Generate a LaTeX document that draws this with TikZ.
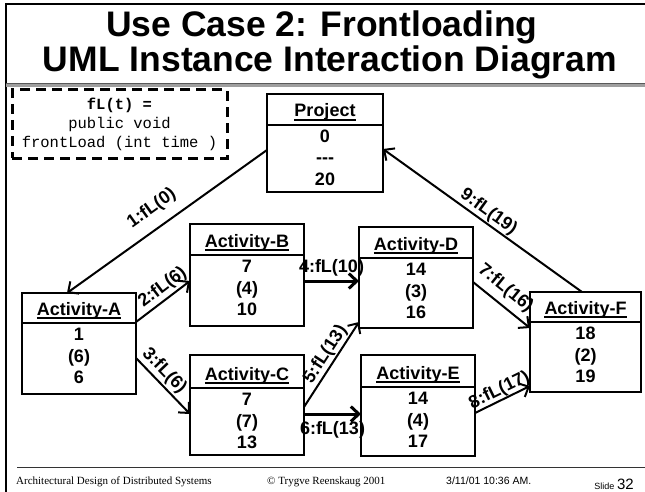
\documentclass[tikz,border=0pt]{standalone}
\usepackage{fontspec}
\setmainfont{Liberation Sans}
\newfontfamily\serifft{Liberation Serif}
\newfontfamily\monoft{Liberation Mono}
\usetikzlibrary{arrows.meta,calc}

% one UML instance box: name, x1, y1, x2, y2, y of the separator, title
\newcommand\umlobj[7]{%
  \node[objbox, minimum width={(#4-#2)*1pt}, minimum height={(#5-#3)*1pt}]
    (#1) at ({(#2+#4)/2},{(#3+#5)/2}) {};
  \draw[sepline] (#2,#6) -- (#4,#6);
  \node[objtext] (#1-title) at ({(#2+#4)/2},#6-8) {#7};
  \draw[uline] ([yshift=-3pt]#1-title.base west) -- ([yshift=-3pt]#1-title.base east);
}
% the three attribute values of a box: name, x centre, y of the separator, values
\newcommand\umlvals[6]{%
  \node[objtext] (#1-v1) at (#2,#3+17.5) {#4};
  \node[objtext] (#1-v2) at (#2,#3+39) {#5};
  \node[objtext] (#1-v3) at (#2,#3+60.5) {#6};
}

\begin{document}
\begin{tikzpicture}[x=1pt,y=-1pt,
  objbox/.style={draw, line width=1.8pt, inner sep=0pt, outer sep=0pt},
  sepline/.style={line width=1.5pt},
  uline/.style={line width=1.6pt},
  objtext/.style={font=\bfseries\fontsize{18}{20}\selectfont, inner sep=0pt, anchor=base},
  msg/.style={line width=2pt, -{Straight Barb[length=8pt,width=15pt]}},
  msgh/.style={msg, line width=3pt},
  msglabel/.style={font=\bfseries\fontsize{18}{20}\selectfont, sloped, inner sep=1pt},
  titletext/.style={font=\bfseries\fontsize{35.5}{36}\selectfont, inner sep=0pt, anchor=base},
  foottext/.style={inner sep=0pt, anchor=base west},
  notebox/.style={draw, line width=3pt, dash pattern=on 10pt off 6pt,
    inner sep=0pt, align=center, font=\monoft\fontsize{15.5}{19}\selectfont}
]
\useasboundingbox (0,0) rectangle (645,492);

% slide frame
\draw[line width=2pt] (6,492) -- (6,4) -- (645,4);
\fill[gray!75] (6,83) rectangle (645,87);
\draw[line width=1.2pt, black!65] (6,83.6) -- (645,83.6);

% title
\node[titletext] (title1) at (322,37) {Use Case 2: Frontloading};
\node[titletext] (title2) at (330,72) {UML Instance Interaction Diagram};

% note
\node[notebox, minimum width=215pt, minimum height=68pt] (note) at (119.5,124)
  {\textbf{fL(t) =}\\public void\\frontLoad (int time )};

% instances
\umlobj{P}{267}{94}{383}{192}{125}{Project}
\umlvals{P}{325}{125}{0}{-{}-{}-}{20}
\umlobj{A}{22}{293}{136}{394}{323}{Activity-A}
\umlvals{A}{79}{323}{1}{(6)}{6}
\umlobj{B}{190}{224}{304}{326}{255}{Activity-B}
\umlvals{B}{247}{255}{7}{(4)}{10}
\umlobj{C}{190}{355}{304}{455}{388}{Activity-C}
\umlvals{C}{247}{388}{7}{(7)}{13}
\umlobj{D}{359}{227}{473}{328}{258}{Activity-D}
\umlvals{D}{416}{258}{14}{(3)}{16}
\umlobj{E}{361}{355}{475}{456}{387}{Activity-E}
\umlvals{E}{418}{387}{14}{(4)}{17}
\umlobj{F}{530}{292}{641}{392}{322}{Activity-F}
\umlvals{F}{585.5}{322}{18}{(2)}{19}

% messages
\draw[msg] ([yshift=-7pt]P.west) -- node[msglabel, pos=.52, above=9pt] {1:fL(0)} ([xshift=-12pt]A.north);
\draw[msg] ([yshift=21.5pt]A.east) -- node[msglabel, pos=.62, above=1pt] {2:fL(6)} ([yshift=-6pt]B.west);
\draw[msg] ([yshift=-14.5pt]A.east) -- node[msglabel, pos=.37, above=1pt] {3:fL(6)} ([yshift=-9pt]C.west);
\coordinate (m4) at ([yshift=-6pt]B.east);
\draw[msgh] (m4) -- node[msglabel, above=2pt] {4:fL(10)} (m4 -| D.west);
\draw[msg] ([yshift=-2pt]C.east) -- node[msglabel, pos=.55, above=0pt] {5:fL(13)} ([yshift=6pt]D.south west);
\coordinate (m6) at ([yshift=-9pt]C.east);
\draw[msgh] (m6) -- node[msglabel, below=5pt] {6:fL(13)} (m6 -| E.west);
\draw[msg] ([yshift=-4.5pt]D.east) -- node[msglabel, pos=.4, above=5pt] {7:fL(16)} ([yshift=14pt]F.west);
\draw[msg] ([yshift=-7.5pt]E.east) -- node[msglabel, pos=.52, above=-1pt] {8:fL(17)} ([yshift=-44pt]F.west);
\draw[msg] ([xshift=-3.5pt]F.north) -- node[msglabel, above] {9:fL(19)} ([yshift=-6pt]P.east);

% footer
\draw[line width=1pt, black!80] (17,467) -- (645,467);
\node[foottext, font=\serifft\fontsize{11}{12}\selectfont]
  (foot1) at (16,484) {Architectural Design of Distributed Systems};
\node[foottext, font=\serifft\fontsize{11}{12}\selectfont]
  (foot2) at (267,484) {© Trygve Reenskaug 2001};
\node[foottext, font=\fontsize{10.5}{12}\selectfont]
  (foot3) at (446,484) {3/11/01 10:36 AM.};
\node[inner sep=0pt, anchor=base east]
  (foot4) at (634,489) {{\fontsize{9}{10}\selectfont Slide} {\fontsize{15}{16}\selectfont 32}};
\end{tikzpicture}
\end{document}
